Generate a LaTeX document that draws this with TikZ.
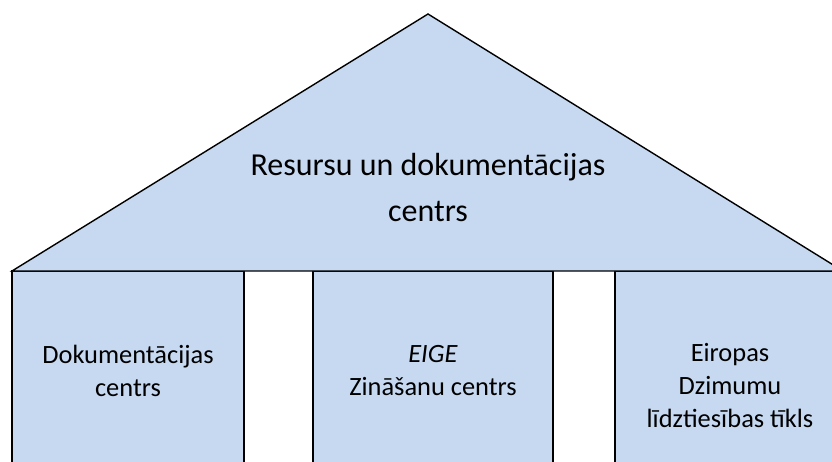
\documentclass[tikz,border=0pt]{standalone}
\usepackage{fontspec}
\setmainfont{Carlito}
\definecolor{fillb}{RGB}{198,217,241}
\tikzset{shp/.style={draw=black,line width=1.4pt,fill=fillb,line join=miter},lbl/.style={align=center,text=black,font=\fontsize{26.4}{33}\selectfont}}
\begin{document}
\begin{tikzpicture}[x=1pt,y=-1pt]
\useasboundingbox (0,0) rectangle (832,462);
\clip (0,0) rectangle (832,462);
\draw[shp] (12,271) rectangle (244,470);
\draw[shp] (313,271) rectangle (553,470);
\draw[shp] (615,271) rectangle (840,470);
\draw[shp] (428,14) -- (843,271) -- (12,271) -- cycle;
\node[lbl,font=\fontsize{32}{46}\selectfont] (roof) at (428,188) {Resursu un dokumentācijas\\centrs};
\node[lbl] (a) at (128,371) {Dokumentācijas\\centrs};
\node[lbl] (b) at (433,371) {\textit{EIGE}\\Zināšanu centrs};
\node[lbl] (c) at (730,386) {Eiropas\\Dzimumu\\līdztiesības tīkls};
\end{tikzpicture}
\end{document}
